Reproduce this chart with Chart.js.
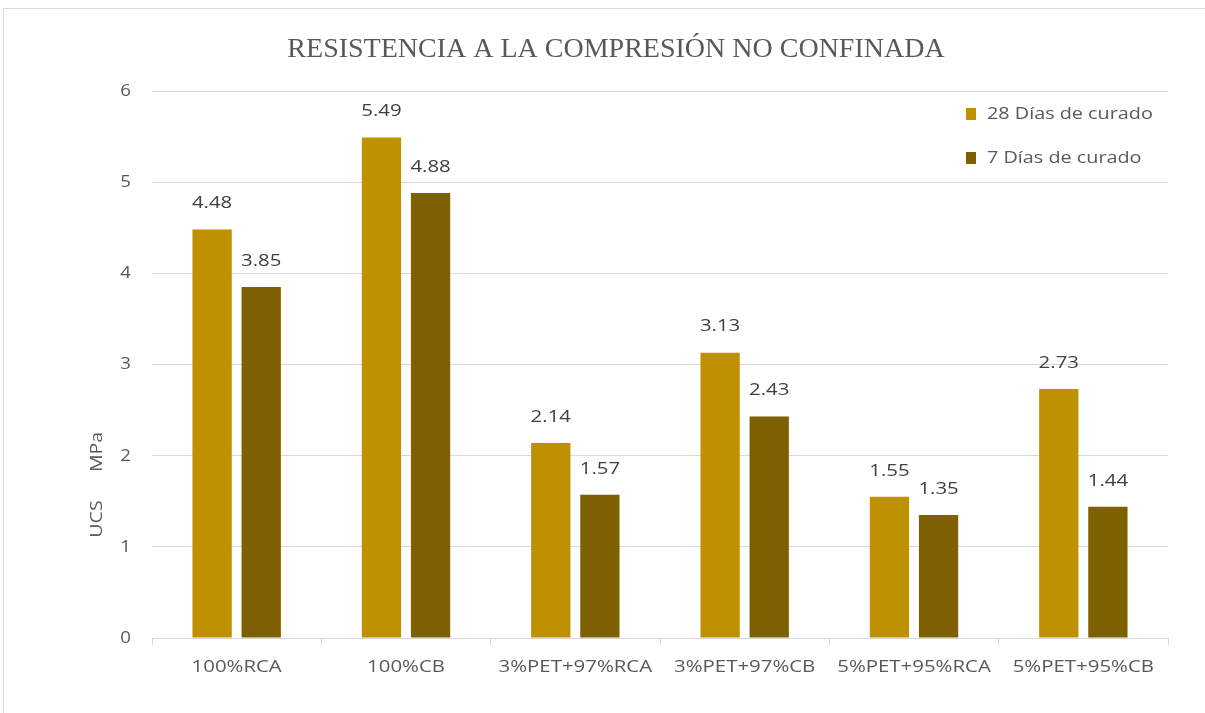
<!DOCTYPE html>
<html>
<head>
<meta charset="utf-8">
<script src="https://cdn.jsdelivr.net/npm/chart.js@4.4.0/dist/chart.umd.min.js"></script>
<style>
  html, body { margin: 0; padding: 0; background: #fff; }
  #wrap { position: relative; width: 1205px; height: 713px; overflow: hidden; }
  #frame { position: absolute; left: 3px; top: 8px; width: 1300px; height: 800px;
           border-top: 1px solid #d9d9d9; border-left: 1px solid #d9d9d9; }
  canvas { position: absolute; left: 0; top: 0; }
</style>
</head>
<body>
<div id="wrap">
  <div id="frame"></div>
  <canvas id="chart" width="1205" height="713"></canvas>
</div>
<script>
const categories = ['100%RCA', '100%CB', '3%PET+97%RCA', '3%PET+97%CB', '5%PET+95%RCA', '5%PET+95%CB'];
const days28 = [4.48, 5.49, 2.14, 3.13, 1.55, 2.73];
const days7 = [3.85, 4.88, 1.57, 2.43, 1.35, 1.44];
const yTicks = [0, 1, 2, 3, 4, 5, 6];

const textColor = '#595959';

// the reference text is a bit wider than Open Sans, so stretch it sideways
function drawText(ctx, text, x, y, font, sx, align, color) {
  ctx.save();
  ctx.translate(x, y);
  ctx.scale(sx, 1);
  ctx.font = font;
  ctx.fillStyle = color;
  ctx.textAlign = align;
  ctx.textBaseline = 'middle';
  ctx.fillText(text, 0, 0);
  ctx.restore();
}

// title, tick labels, y axis title, legend and value labels drawn by hand
const extras = {
  id: 'extras',
  afterDraw(chart) {
    const ctx = chart.ctx;
    const xs = chart.scales.x;
    const ys = chart.scales.y;

    // value labels
    chart.data.datasets.forEach((ds, i) => {
      chart.getDatasetMeta(i).data.forEach((bar, j) => {
        drawText(ctx, ds.data[j].toFixed(2), bar.x, bar.y - 26, '17px "Open Sans"', 1.2, 'center', '#404040');
      });
    });

    // tick labels
    categories.forEach((c, i) => {
      drawText(ctx, c, xs.getPixelForValue(i), 667, '17px "Open Sans"', 1.2, 'center', textColor);
    });
    yTicks.forEach(v => {
      drawText(ctx, String(v), 131, ys.getPixelForValue(v), '17px "Open Sans"', 1.1, 'right', textColor);
    });

    // title
    ctx.save();
    ctx.font = '28px "Liberation Serif"';
    ctx.fillStyle = textColor;
    ctx.textAlign = 'center';
    ctx.textBaseline = 'middle';
    ctx.fillText('RESISTENCIA A LA COMPRESIÓN NO CONFINADA', 616, 50);
    ctx.restore();

    // y axis title
    ctx.save();
    ctx.translate(97, 0);
    ctx.rotate(-Math.PI / 2);
    drawText(ctx, 'UCS', -519, 0, '17px "Open Sans"', 1.15, 'center', textColor);
    drawText(ctx, 'MPa', -452, 0, '17px "Open Sans"', 1.15, 'center', textColor);
    ctx.restore();

    // legend
    chart.data.datasets.forEach((ds, i) => {
      const y = 114 + i * 44;
      ctx.fillStyle = ds.backgroundColor;
      ctx.fillRect(966, y - 6, 10, 12);
      drawText(ctx, ds.label, 987, y, '16.5px "Open Sans"', 1.2, 'left', textColor);
    });
  }
};

new Chart(document.getElementById('chart'), {
  type: 'bar',
  data: {
    labels: categories,
    datasets: [
      { label: '28 Días de curado', data: days28, backgroundColor: '#BF9000' },
      { label: '7 Días de curado', data: days7, backgroundColor: '#7F6000' }
    ]
  },
  options: {
    responsive: false,
    animation: false,
    layout: { padding: { top: 91, right: 37, left: 0, bottom: 0 } },
    datasets: { bar: { categoryPercentage: 0.58, barPercentage: 0.8 } },
    plugins: { legend: { display: false }, title: { display: false }, tooltip: { enabled: false } },
    scales: {
      x: {
        grid: { offset: true, drawOnChartArea: false, color: '#d9d9d9', tickLength: 7 },
        border: { color: '#d9d9d9' },
        ticks: { display: false },
        afterFit(scale) { scale.height = 75; }
      },
      y: {
        min: 0,
        max: 6,
        afterBuildTicks(scale) { scale.ticks = yTicks.map(v => ({ value: v })); },
        grid: { color: '#d9d9d9', drawTicks: false },
        border: { display: false },
        ticks: { display: false },
        afterFit(scale) { scale.width = 152; }
      }
    }
  },
  plugins: [extras]
});
</script>
</body>
</html>
